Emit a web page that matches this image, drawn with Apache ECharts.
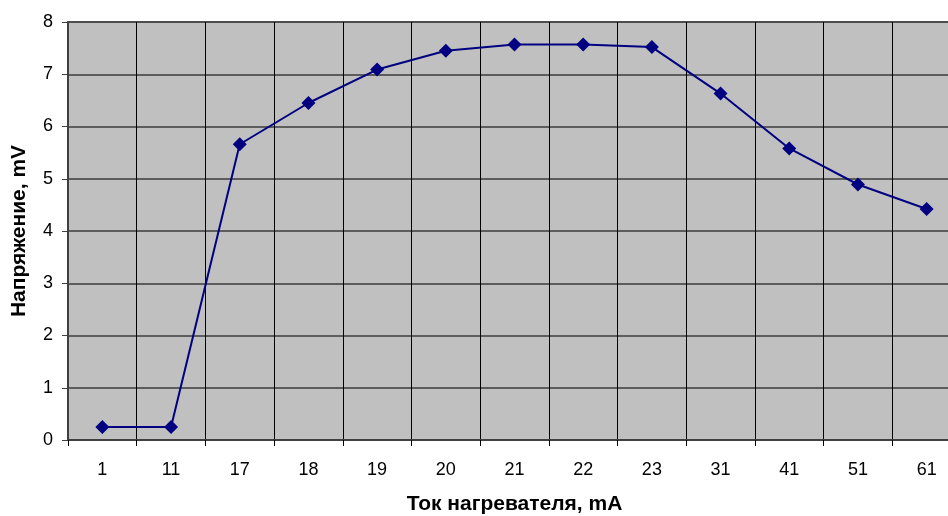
<!DOCTYPE html>
<html>
<head>
<meta charset="utf-8">
<script src="https://cdn.jsdelivr.net/npm/echarts@6/dist/echarts.min.js"></script>
<style>
    html, body { margin: 0; padding: 0; background: #fff; }
    #chart { width: 948px; height: 516px; }
</style>
</head>
<body>
<div id="chart"></div>
<script type="text/javascript">
    // ток нагревателя, mA
    var currents = ['1', '11', '17', '18', '19', '20', '21', '22', '23', '31', '41', '51', '61'];
    // напряжение, mV
    var voltages = [0.25, 0.25, 5.66, 6.45, 7.09, 7.45, 7.57, 7.57, 7.52, 6.63, 5.58, 4.89, 4.42];
    var yTicks = { min: 0, max: 8, step: 1 };

    var chart = echarts.init(document.getElementById('chart'));
    var font = '"Liberation Sans", Arial, sans-serif';
    option = {
        animation: false,
        grid: {
            left: 68,
            top: 22,
            width: 893,
            height: 418,
            outerBoundsMode: 'none',
            containLabel: false,
            show: true,
            backgroundColor: '#c0c0c0',
            borderColor: '#808080',
            borderWidth: 2
        },
        xAxis: {
            type: 'category',
            data: currents,
            boundaryGap: true,
            name: 'Ток нагревателя, mA',
            nameLocation: 'middle',
            nameGap: 54,
            nameTextStyle: { fontFamily: font, fontSize: 21, fontWeight: 'bold', color: '#000' },
            axisLine: { lineStyle: { color: '#404040', width: 2 } },
            axisTick: { show: true, length: 6, lineStyle: { color: '#000', width: 1 } },
            axisLabel: { margin: 21, fontFamily: font, fontSize: 18, color: '#000' },
            splitLine: { show: true, lineStyle: { color: '#000', width: 1 } }
        },
        yAxis: {
            type: 'value',
            min: yTicks.min,
            max: yTicks.max,
            interval: yTicks.step,
            name: 'Напряжение, mV',
            nameLocation: 'middle',
            nameGap: 38,
            nameTextStyle: { fontFamily: font, fontSize: 21, fontWeight: 'bold', color: '#000' },
            axisLine: { show: true, lineStyle: { color: '#404040', width: 2 } },
            axisTick: { show: true, length: 6, lineStyle: { color: '#404040', width: 1 } },
            axisLabel: { margin: 15, fontFamily: font, fontSize: 18, color: '#000' },
            splitLine: { show: true, lineStyle: { color: '#3c3c3c', width: 1.5 } }
        },
        series: [{
            type: 'line',
            data: voltages,
            symbol: 'diamond',
            symbolSize: 14,
            lineStyle: { color: '#000080', width: 2 },
            itemStyle: { color: '#000080' }
        }]
    };
    chart.setOption(option);
</script>
</body>
</html>
